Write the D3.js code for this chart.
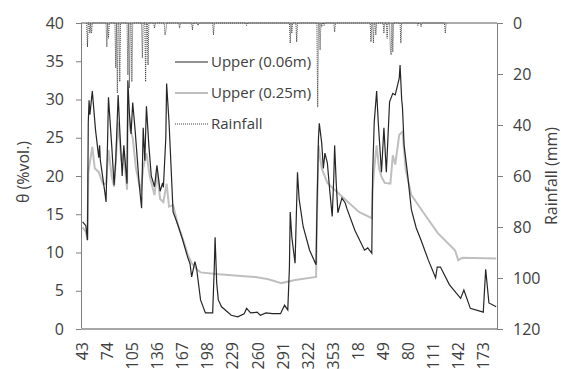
<!DOCTYPE html>
<html>
<head>
<meta charset="utf-8">
<script src="https://cdn.jsdelivr.net/npm/d3@7"></script>
<style>
  body { margin: 0; background: #fff; }
  text { font-family: "Open Sans", sans-serif; fill: #404040; }
</style>
</head>
<body>
<div id="chart"></div>
<script>
// chart data (day index 0 = day 43)
var tickLabels = ["43", "74", "105", "136", "167", "198", "229", "260", "291", "322", "353", "18", "49", "80", "111", "142", "173"];

// Upper (0.06m): [day index, theta]
var upper06 = [
  [0, 14.0], [4, 13.5], [6, 11.6], [7, 27], [8, 29.9], [9, 28.0], [12, 31.1], [16, 26], [20, 22.4], [21, 24.0],
  [22, 22], [28, 17.5], [29, 16.6], [31, 25], [32, 30.3], [36, 24], [39, 18.8], [41, 22], [44, 30.6], [46, 26],
  [49, 20], [51, 24], [55, 19], [56, 32.5], [58, 28], [60, 25.5], [62, 29.6], [65, 26], [70, 19], [73, 15.8],
  [75, 26.3], [77, 22], [79, 29.1], [82, 24], [85, 20], [89, 18.6], [92, 21.4], [96, 18], [99, 19.1], [100, 18.5],
  [103, 25], [104, 32.1], [107, 27], [110, 20], [112, 15.3], [118, 13.6], [124, 11.6], [130, 9.4], [133, 8.5],
  [135, 6.8], [139, 8.8], [141, 8.0], [146, 3.8], [152, 2.1], [161, 2.1], [163, 8], [164, 12.0], [166, 6],
  [168, 3.8], [172, 2.9], [184, 1.8], [192, 1.6], [200, 2.0], [203, 2.7], [208, 2.1], [216, 2.2], [220, 1.8],
  [227, 2.1], [235, 2.0], [245, 2.0], [250, 3.1], [254, 2.5], [256, 8], [257, 15.3], [259, 12], [263, 8.6],
  [266, 20.5], [268, 17], [273, 13.4], [281, 10.3], [289, 8.4], [290, 15], [292, 25], [293, 26.9], [296, 24.3],
  [298, 21], [300, 23], [303, 21.7], [306, 18], [309, 14.7], [311, 20], [312, 24.0], [314, 19], [316, 15.2],
  [321, 17.1], [325, 16.5], [327, 15.8], [337, 12.9], [349, 10.3], [353, 10.6], [358, 9.9], [359, 20], [361, 27],
  [364, 31.1], [366, 27], [370, 20.5], [373, 26.3], [376, 20.5], [378, 25], [380, 29.7], [384, 30.8], [387, 30.6],
  [392, 32.8], [393, 34.5], [395, 30], [396, 28.9], [398, 24], [402, 20.5], [407, 15.6], [413, 13.2], [419, 11.6],
  [428, 9.0], [437, 6.7], [439, 8.1], [443, 8.1], [454, 5.8], [468, 4.0], [472, 5.1], [480, 2.7], [496, 2.2],
  [499, 7.8], [503, 3.4], [512, 2.9]
];

// Upper (0.25m): [day index, theta]
var upper25 = [
  [0, 13.3], [4, 12.7], [6, 11.7], [7, 20.4], [12, 23.8], [15, 21], [20, 20.5], [25, 19], [29, 19], [32, 23.4],
  [36, 20], [39, 18.6], [44, 27], [48, 22], [51, 23], [55, 18.2], [56, 29.5], [59, 26], [62, 25], [66, 21],
  [72, 18], [75, 21], [79, 23], [83, 20], [89, 17.5], [92, 20.5], [96, 17], [100, 16.6], [104, 19], [107, 16.0],
  [112, 16.2], [118, 13.6], [124, 11.8], [130, 9.8], [135, 8.6], [141, 7.8], [146, 7.4], [165, 7.2], [200, 6.9],
  [214, 6.8], [230, 6.5], [246, 6.0], [263, 6.4], [289, 6.8], [290, 14], [292, 24], [296, 21], [303, 19.1],
  [315, 17.9], [342, 15.3], [358, 14.5], [359, 18], [361, 21], [364, 24.0], [367, 21], [370, 19.9], [374, 19.1],
  [381, 19.0], [384, 22.7], [387, 21.5], [392, 25.4], [396, 25.8], [400, 20.8], [407, 17.5], [424, 14.9],
  [440, 12.5], [461, 10.3], [465, 9.0], [470, 9.3], [512, 9.2]
];

// Rainfall events: [day index, mm]
var rainfall = [
  [6, 9.4], [9, 4], [11, 4], [30, 9.4], [32, 6], [41, 17.6], [43, 27.5], [46, 23], [56, 20.4], [58, 25.5],
  [61, 23], [74, 13.7], [78, 23], [81, 16.5], [89, 2], [102, 4.7], [103, 3.5], [120, 2], [136, 2.7], [143, 1],
  [162, 4.7], [203, 1], [257, 7.9], [259, 4], [265, 7.4], [291, 33], [294, 10.6], [296, 1.5], [299, 1],
  [312, 3.5], [357, 7.4], [360, 7.9], [363, 4.7], [373, 4], [377, 6], [381, 10.6], [382, 12.5], [384, 11.4],
  [394, 7.9], [415, 1], [419, 1.5], [449, 4]
];

var svgWidth = 561;
var svgHeight = 369;

var margin = { top: 23, right: 64, bottom: 40, left: 81 };
var width = svgWidth - margin.left - margin.right;
var height = svgHeight - margin.top - margin.bottom;

var svg = d3.select("#chart")
  .append("svg")
  .attr("width", svgWidth)
  .attr("height", svgHeight);

var chartGroup = svg.append("g")
  .attr("transform", `translate(${margin.left}, ${margin.top})`);

// scales
var xScale = d3.scaleLinear().domain([-2, 513]).range([0, width]);
var yScale = d3.scaleLinear().domain([0, 40]).range([height, 0]);
var rainScale = d3.scaleLinear().domain([0, 120]).range([0, height]);

// axes
var leftAxis = d3.axisLeft(yScale).tickValues(d3.range(0, 41, 5)).tickSize(5).tickPadding(12);
var rightAxis = d3.axisRight(rainScale).tickValues(d3.range(0, 121, 20)).tickSize(6).tickPadding(10);

var gl = chartGroup.append("g").call(leftAxis);
var gr = chartGroup.append("g").attr("transform", `translate(${width}, 0)`).call(rightAxis);
[gl, gr].forEach(function(g) {
  g.select(".domain").attr("stroke", "#7f7f7f");
  g.selectAll(".tick line").attr("stroke", "#7f7f7f");
  g.selectAll("text").style("font-size", "16px").attr("fill", "#404040");
});

// top line and bottom category axis
chartGroup.append("line")
  .attr("x1", 0).attr("x2", width).attr("y1", 0).attr("y2", 0)
  .attr("stroke", "#595959").attr("stroke-width", 1);
chartGroup.append("line")
  .attr("x1", 0).attr("x2", width).attr("y1", height).attr("y2", height)
  .attr("stroke", "#a6a6a6").attr("stroke-width", 2);

// x labels, one every 31 days
chartGroup.selectAll(".xlab")
  .data(tickLabels)
  .enter()
  .append("text")
  .attr("class", "xlab")
  .attr("transform", (d, i) => `translate(${xScale(i * 31)}, ${height + 13}) rotate(-90)`)
  .attr("dy", "0.35em")
  .attr("text-anchor", "end")
  .style("font-size", "16px")
  .text(d => d);

// rainfall line: zero on days with no rain
var rainMap = new Map(rainfall);
var rainDays = new Set();
rainfall.forEach(function(d) {
  rainDays.add(d[0] - 1); rainDays.add(d[0]); rainDays.add(d[0] + 1);
});
var rainPts = Array.from(rainDays).sort((a, b) => a - b).map(d => [d, rainMap.get(d) || 0]);

var rainLine = d3.line()
  .x(d => xScale(d[0]))
  .y(d => rainScale(d[1]));

chartGroup.append("path")
  .datum(rainPts)
  .attr("fill", "none")
  .attr("stroke", "#404040")
  .attr("stroke-width", 1)
  .attr("stroke-dasharray", "1,1")
  .attr("d", rainLine);

var thetaLine = d3.line()
  .x(d => xScale(d[0]))
  .y(d => yScale(d[1]));

chartGroup.append("path")
  .datum(upper25)
  .attr("fill", "none")
  .attr("stroke", "#bfbfbf")
  .attr("stroke-width", 2)
  .attr("d", thetaLine);

chartGroup.append("path")
  .datum(upper06)
  .attr("fill", "none")
  .attr("stroke", "#262626")
  .attr("stroke-width", 1.2)
  .attr("d", thetaLine);

// legend
var legend = [
  { name: "Upper (0.06m)", color: "#262626", w: 1.2, dash: null, y: 62 },
  { name: "Upper (0.25m)", color: "#bfbfbf", w: 2, dash: null, y: 93 },
  { name: "Rainfall", color: "#404040", w: 1, dash: "1,1", y: 124 }
];
var lg = svg.append("g");
legend.forEach(function(d) {
  lg.append("line")
    .attr("x1", 175).attr("x2", 208).attr("y1", d.y).attr("y2", d.y)
    .attr("stroke", d.color).attr("stroke-width", d.w)
    .attr("stroke-dasharray", d.dash);
  lg.append("text")
    .attr("x", 211).attr("y", d.y).attr("dy", "0.35em")
    .style("font-size", "15px")
    .text(d.name);
});

// axis titles
svg.append("text")
  .attr("transform", "translate(29, 172) rotate(-90)")
  .attr("text-anchor", "middle")
  .style("font-size", "16px")
  .text("θ (%vol.)");

svg.append("text")
  .attr("transform", "translate(557, 176) rotate(-90)")
  .attr("text-anchor", "middle")
  .style("font-size", "16px")
  .text("Rainfall (mm)");
</script>
</body>
</html>
